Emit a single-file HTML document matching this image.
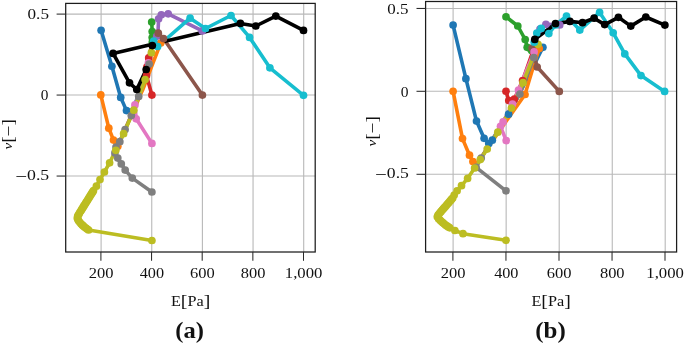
<!DOCTYPE html><html><head><meta charset="utf-8"><title>Figure</title><style>html,body{margin:0;padding:0;background:#fff}svg{display:block}</style></head><body><svg width="685" height="345" viewBox="0 0 685 345" font-family="'Liberation Serif', serif" fill="#111">
<rect width="685" height="345" fill="#fff"/>
<g stroke="#b8b8b8" stroke-width="1.1"><line x1="101.1" y1="3.4" x2="101.1" y2="252.0"/><line x1="151.75" y1="3.4" x2="151.75" y2="252.0"/><line x1="202.4" y1="3.4" x2="202.4" y2="252.0"/><line x1="253.05" y1="3.4" x2="253.05" y2="252.0"/><line x1="303.7" y1="3.4" x2="303.7" y2="252.0"/><line x1="65.7" y1="14.1" x2="315.2" y2="14.1"/><line x1="65.7" y1="95.06" x2="315.2" y2="95.06"/><line x1="65.7" y1="176.05" x2="315.2" y2="176.05"/></g>
<polyline points="101.1,30.3 111.9,66.3 120.7,97.4 126.5,110.6 132.6,109.8 138.0,96.5 144.4,79.6 148.5,64.0 151.0,52.0" fill="none" stroke="#1f77b4" stroke-width="3.6" stroke-linejoin="round" stroke-linecap="round"/>
<polyline points="100.8,94.9 108.8,128.2 113.5,140.1 117.8,146.3 119.9,141.5 125.0,129.6 131.0,116.0 134.3,110.0 139.3,97.0 142.6,90.0 146.5,80.0 151.2,67.5 160.7,43.0" fill="none" stroke="#ff7f0e" stroke-width="3.6" stroke-linejoin="round" stroke-linecap="round"/>
<polyline points="151.7,22.1 152.2,31.5 152.2,37.5 152.3,42.0" fill="none" stroke="#2ca02c" stroke-width="3.6" stroke-linejoin="round" stroke-linecap="round"/>
<polyline points="151.9,95.1 146.5,75.5 147.0,66.8 148.7,57.9 150.5,50.0" fill="none" stroke="#d62728" stroke-width="3.6" stroke-linejoin="round" stroke-linecap="round"/>
<polyline points="202.3,30.9 168.2,13.8 161.3,14.8 158.6,18.8 158.1,30.0 156.8,36.2 155.0,42.0" fill="none" stroke="#9467bd" stroke-width="3.6" stroke-linejoin="round" stroke-linecap="round"/>
<polyline points="202.4,95.1 163.5,38.6 158.3,33.2" fill="none" stroke="#8c564b" stroke-width="3.6" stroke-linejoin="round" stroke-linecap="round"/>
<polyline points="151.9,143.4 136.2,118.8 134.9,104.9 138.5,96.5 144.8,79.6 148.4,62.9 150.0,56.0" fill="none" stroke="#e377c2" stroke-width="3.6" stroke-linejoin="round" stroke-linecap="round"/>
<polyline points="151.9,192.0 132.3,178.1 125.2,170.1 121.3,163.9 117.8,158.1 114.9,152.9 116.0,147.0 119.8,141.7 125.1,129.6 131.3,115.6 138.7,96.4 149.1,64.1 150.5,56.0" fill="none" stroke="#7f7f7f" stroke-width="3.6" stroke-linejoin="round" stroke-linecap="round"/>
<polyline points="151.9,240.5 88.6,230.0 87.2,229.0 85.9,228.0 84.5,227.0 83.3,225.9 82.2,224.9 81.0,223.8 79.8,222.3 78.6,220.8 77.9,219.4 77.3,218.0 77.7,216.0 78.5,214.8 79.2,213.5 80.0,212.1 80.9,210.8 81.7,209.4 82.6,208.1 83.4,206.7 84.2,205.4 85.1,204.0 85.9,202.7 86.8,201.3 87.6,200.0 88.5,198.6 89.3,197.3 90.1,195.9 91.0,194.6 91.8,193.2 92.7,191.9 93.5,190.5 96.4,186.2 100.0,179.6 104.4,172.0 109.6,162.8 115.8,150.3 123.6,133.7 133.8,110.2 145.1,79.6 151.4,52.7" fill="none" stroke="#bcbd22" stroke-width="3.6" stroke-linejoin="round" stroke-linecap="round"/>
<polyline points="303.5,95.3 269.9,67.8 249.6,37.4 231.0,15.5 205.5,28.5 190.1,18.2 157.6,46.5 153.7,41.2" fill="none" stroke="#17becf" stroke-width="3.6" stroke-linejoin="round" stroke-linecap="round"/>
<polyline points="303.5,30.4 275.8,16.1 255.8,26.0 240.4,23.4 113.1,53.4 129.5,82.8 136.8,89.5 146.2,69.5 152.3,45.6" fill="none" stroke="#000000" stroke-width="3.6" stroke-linejoin="round" stroke-linecap="round"/>
<g fill="#1f77b4"><circle cx="101.1" cy="30.3" r="3.85"/><circle cx="111.9" cy="66.3" r="3.85"/><circle cx="120.7" cy="97.4" r="3.85"/><circle cx="126.5" cy="110.6" r="3.85"/></g>
<g fill="#ff7f0e"><circle cx="100.8" cy="94.9" r="3.85"/><circle cx="108.8" cy="128.2" r="3.85"/><circle cx="113.5" cy="140.1" r="3.85"/><circle cx="117.8" cy="146.3" r="3.85"/><circle cx="160.7" cy="43.0" r="3.85"/></g>
<g fill="#2ca02c"><circle cx="151.7" cy="22.1" r="3.85"/><circle cx="152.2" cy="31.5" r="3.85"/><circle cx="152.2" cy="37.5" r="3.85"/><circle cx="152.3" cy="42.0" r="3.85"/></g>
<g fill="#d62728"><circle cx="151.9" cy="95.1" r="3.85"/><circle cx="146.5" cy="75.5" r="3.85"/><circle cx="147.0" cy="66.8" r="3.85"/><circle cx="148.7" cy="57.9" r="3.85"/></g>
<g fill="#9467bd"><circle cx="202.3" cy="30.9" r="3.85"/><circle cx="168.2" cy="13.8" r="3.85"/><circle cx="161.3" cy="14.8" r="3.85"/><circle cx="158.6" cy="18.8" r="3.85"/><circle cx="156.8" cy="36.2" r="3.85"/></g>
<g fill="#8c564b"><circle cx="202.4" cy="95.1" r="3.85"/><circle cx="163.5" cy="38.6" r="3.85"/><circle cx="158.3" cy="33.2" r="3.85"/></g>
<g fill="#e377c2"><circle cx="151.9" cy="143.4" r="3.85"/><circle cx="136.2" cy="118.8" r="3.85"/><circle cx="134.9" cy="104.9" r="3.85"/><circle cx="148.4" cy="62.9" r="3.85"/></g>
<g fill="#7f7f7f"><circle cx="151.9" cy="192.0" r="3.85"/><circle cx="132.3" cy="178.1" r="3.85"/><circle cx="125.2" cy="170.1" r="3.85"/><circle cx="121.3" cy="163.9" r="3.85"/><circle cx="117.8" cy="158.1" r="3.85"/><circle cx="114.9" cy="152.9" r="3.85"/><circle cx="116.0" cy="147.0" r="3.85"/><circle cx="119.8" cy="141.7" r="3.85"/><circle cx="125.1" cy="129.6" r="3.85"/><circle cx="131.3" cy="115.6" r="3.85"/><circle cx="138.7" cy="96.4" r="3.85"/><circle cx="149.1" cy="64.1" r="3.85"/></g>
<g fill="#bcbd22"><circle cx="151.9" cy="240.5" r="3.85"/><circle cx="88.6" cy="230.0" r="3.85"/><circle cx="87.2" cy="229.0" r="3.85"/><circle cx="85.9" cy="228.0" r="3.85"/><circle cx="84.5" cy="227.0" r="3.85"/><circle cx="83.3" cy="225.9" r="3.85"/><circle cx="82.2" cy="224.9" r="3.85"/><circle cx="81.0" cy="223.8" r="3.85"/><circle cx="79.8" cy="222.3" r="3.85"/><circle cx="78.6" cy="220.8" r="3.85"/><circle cx="77.9" cy="219.4" r="3.85"/><circle cx="77.3" cy="218.0" r="3.85"/><circle cx="77.7" cy="216.0" r="3.85"/><circle cx="78.5" cy="214.8" r="3.85"/><circle cx="79.2" cy="213.5" r="3.85"/><circle cx="80.0" cy="212.1" r="3.85"/><circle cx="80.9" cy="210.8" r="3.85"/><circle cx="81.7" cy="209.4" r="3.85"/><circle cx="82.6" cy="208.1" r="3.85"/><circle cx="83.4" cy="206.7" r="3.85"/><circle cx="84.2" cy="205.4" r="3.85"/><circle cx="85.1" cy="204.0" r="3.85"/><circle cx="85.9" cy="202.7" r="3.85"/><circle cx="86.8" cy="201.3" r="3.85"/><circle cx="87.6" cy="200.0" r="3.85"/><circle cx="88.5" cy="198.6" r="3.85"/><circle cx="89.3" cy="197.3" r="3.85"/><circle cx="90.1" cy="195.9" r="3.85"/><circle cx="91.0" cy="194.6" r="3.85"/><circle cx="91.8" cy="193.2" r="3.85"/><circle cx="92.7" cy="191.9" r="3.85"/><circle cx="93.5" cy="190.5" r="3.85"/><circle cx="96.4" cy="186.2" r="3.85"/><circle cx="100.0" cy="179.6" r="3.85"/><circle cx="104.4" cy="172.0" r="3.85"/><circle cx="109.6" cy="162.8" r="3.85"/><circle cx="115.8" cy="150.3" r="3.85"/><circle cx="123.6" cy="133.7" r="3.85"/><circle cx="133.8" cy="110.2" r="3.85"/><circle cx="145.1" cy="79.6" r="3.85"/><circle cx="151.4" cy="52.7" r="3.85"/></g>
<g fill="#17becf"><circle cx="303.5" cy="95.3" r="3.85"/><circle cx="269.9" cy="67.8" r="3.85"/><circle cx="249.6" cy="37.4" r="3.85"/><circle cx="231.0" cy="15.5" r="3.85"/><circle cx="205.5" cy="28.5" r="3.85"/><circle cx="190.1" cy="18.2" r="3.85"/><circle cx="157.6" cy="46.5" r="3.85"/><circle cx="153.7" cy="41.2" r="3.85"/></g>
<g fill="#000000"><circle cx="303.5" cy="30.4" r="3.85"/><circle cx="275.8" cy="16.1" r="3.85"/><circle cx="255.8" cy="26.0" r="3.85"/><circle cx="240.4" cy="23.4" r="3.85"/><circle cx="113.1" cy="53.4" r="3.85"/><circle cx="129.5" cy="82.8" r="3.85"/><circle cx="136.8" cy="89.5" r="3.85"/><circle cx="146.2" cy="69.5" r="3.85"/><circle cx="152.3" cy="45.6" r="3.85"/></g>
<g stroke="#1c1c1c" stroke-width="1.25" fill="none"><rect x="65.7" y="3.4" width="249.50" height="248.60"/></g><g stroke="#2a2a2a" stroke-width="1.05" fill="none"><line x1="100.89999999999999" y1="252.0" x2="100.89999999999999" y2="260.8"/><line x1="151.55" y1="252.0" x2="151.55" y2="260.8"/><line x1="202.20000000000002" y1="252.0" x2="202.20000000000002" y2="260.8"/><line x1="252.85000000000002" y1="252.0" x2="252.85000000000002" y2="260.8"/><line x1="303.5" y1="252.0" x2="303.5" y2="260.8"/><line x1="56.6" y1="14.1" x2="65.7" y2="14.1"/><line x1="56.6" y1="95.06" x2="65.7" y2="95.06"/><line x1="56.6" y1="176.05" x2="65.7" y2="176.05"/></g>
<g stroke="#b8b8b8" stroke-width="1.1"><line x1="453.1" y1="1.5" x2="453.1" y2="252.0"/><line x1="506.15" y1="1.5" x2="506.15" y2="252.0"/><line x1="559.2" y1="1.5" x2="559.2" y2="252.0"/><line x1="612.25" y1="1.5" x2="612.25" y2="252.0"/><line x1="665.2" y1="1.5" x2="665.2" y2="252.0"/><line x1="425.6" y1="8.45" x2="676.6" y2="8.45"/><line x1="425.6" y1="91.3" x2="676.6" y2="91.3"/><line x1="425.6" y1="174.3" x2="676.6" y2="174.3"/></g>
<polyline points="453.1,25.1 465.9,78.7 476.5,121.1 484.1,138.3 488.8,143.5 492.3,140.2 508.6,114.2 526.6,79.8 542.9,47.3" fill="none" stroke="#1f77b4" stroke-width="3.6" stroke-linejoin="round" stroke-linecap="round"/>
<polyline points="453.1,91.3 462.5,138.6 469.5,155.2 472.9,161.6 475.5,165.5 505.6,121.9 525.0,94.5 529.4,79.8 534.0,64.5 539.2,48.6" fill="none" stroke="#ff7f0e" stroke-width="3.6" stroke-linejoin="round" stroke-linecap="round"/>
<polyline points="506.0,16.8 517.8,26.0 525.2,39.5 527.2,47.3 530.0,52.0" fill="none" stroke="#2ca02c" stroke-width="3.6" stroke-linejoin="round" stroke-linecap="round"/>
<polyline points="506.0,91.3 508.8,100.6 514.3,99.2 522.6,80.5 532.6,52.0" fill="none" stroke="#d62728" stroke-width="3.6" stroke-linejoin="round" stroke-linecap="round"/>
<polyline points="559.7,24.9 545.9,24.3 540.0,29.0" fill="none" stroke="#9467bd" stroke-width="3.6" stroke-linejoin="round" stroke-linecap="round"/>
<polyline points="559.3,91.4 537.2,67.0 532.2,48.2" fill="none" stroke="#8c564b" stroke-width="3.6" stroke-linejoin="round" stroke-linecap="round"/>
<polyline points="506.2,140.6 500.5,126.3 503.1,121.9 512.5,104.0 518.5,90.1 534.1,51.9" fill="none" stroke="#e377c2" stroke-width="3.6" stroke-linejoin="round" stroke-linecap="round"/>
<polyline points="506.0,190.8 476.1,167.4 481.2,158.0 519.9,94.1 533.8,57.6" fill="none" stroke="#7f7f7f" stroke-width="3.6" stroke-linejoin="round" stroke-linecap="round"/>
<polyline points="506.0,240.3 463.0,233.7 454.9,230.5 449.8,227.8 448.4,226.9 446.9,225.9 445.5,225.0 444.2,223.8 442.8,222.7 441.5,221.5 440.1,220.2 438.6,218.8 437.3,216.8 438.0,215.0 439.1,213.8 440.1,212.6 441.1,211.4 442.2,210.1 443.2,208.9 444.3,207.7 445.4,206.5 446.4,205.3 447.4,204.1 448.5,202.9 449.6,201.6 450.6,200.4 451.6,199.2 452.7,198.0 454.2,195.1 457.1,190.8 461.5,185.7 467.6,178.4 474.6,168.0 480.3,159.6 487.2,149.1 497.8,132.2 511.4,108.0 523.0,82.7 538.0,44.3" fill="none" stroke="#bcbd22" stroke-width="3.6" stroke-linejoin="round" stroke-linecap="round"/>
<polyline points="664.6,91.4 641.0,75.6 624.8,53.9 613.2,32.8 599.6,12.4 579.8,30.1 566.5,16.1 555.5,25.0 548.8,33.6 541.2,28.4 536.8,33.0 534.2,42.2" fill="none" stroke="#17becf" stroke-width="3.6" stroke-linejoin="round" stroke-linecap="round"/>
<polyline points="664.9,25.1 645.8,17.0 630.8,26.1 618.4,17.3 604.7,24.6 594.1,18.2 582.5,22.7 569.9,21.4 555.5,23.7 534.8,39.4" fill="none" stroke="#000000" stroke-width="3.6" stroke-linejoin="round" stroke-linecap="round"/>
<g fill="#1f77b4"><circle cx="453.1" cy="25.1" r="3.85"/><circle cx="465.9" cy="78.7" r="3.85"/><circle cx="476.5" cy="121.1" r="3.85"/><circle cx="484.1" cy="138.3" r="3.85"/><circle cx="488.8" cy="143.5" r="3.85"/><circle cx="492.3" cy="140.2" r="3.85"/><circle cx="508.6" cy="114.2" r="3.85"/><circle cx="542.9" cy="47.3" r="3.85"/></g>
<g fill="#ff7f0e"><circle cx="453.1" cy="91.3" r="3.85"/><circle cx="462.5" cy="138.6" r="3.85"/><circle cx="469.5" cy="155.2" r="3.85"/><circle cx="472.9" cy="161.6" r="3.85"/><circle cx="525.0" cy="94.5" r="3.85"/><circle cx="539.2" cy="48.6" r="3.85"/></g>
<g fill="#2ca02c"><circle cx="506.0" cy="16.8" r="3.85"/><circle cx="517.8" cy="26.0" r="3.85"/><circle cx="525.2" cy="39.5" r="3.85"/><circle cx="527.2" cy="47.3" r="3.85"/></g>
<g fill="#d62728"><circle cx="506.0" cy="91.3" r="3.85"/><circle cx="508.8" cy="100.6" r="3.85"/><circle cx="514.3" cy="99.2" r="3.85"/><circle cx="522.6" cy="80.5" r="3.85"/></g>
<g fill="#9467bd"><circle cx="559.7" cy="24.9" r="3.85"/><circle cx="545.9" cy="24.3" r="3.85"/><circle cx="540.0" cy="29.0" r="3.85"/></g>
<g fill="#8c564b"><circle cx="559.3" cy="91.4" r="3.85"/><circle cx="537.2" cy="67.0" r="3.85"/><circle cx="532.2" cy="48.2" r="3.85"/></g>
<g fill="#e377c2"><circle cx="506.2" cy="140.6" r="3.85"/><circle cx="500.5" cy="126.3" r="3.85"/><circle cx="503.1" cy="121.9" r="3.85"/><circle cx="512.5" cy="104.0" r="3.85"/><circle cx="518.5" cy="90.1" r="3.85"/><circle cx="534.1" cy="51.9" r="3.85"/></g>
<g fill="#7f7f7f"><circle cx="506.0" cy="190.8" r="3.85"/><circle cx="476.1" cy="167.4" r="3.85"/><circle cx="481.2" cy="158.0" r="3.85"/><circle cx="519.9" cy="94.1" r="3.85"/><circle cx="533.8" cy="57.6" r="3.85"/></g>
<g fill="#bcbd22"><circle cx="506.0" cy="240.3" r="3.85"/><circle cx="463.0" cy="233.7" r="3.85"/><circle cx="454.9" cy="230.5" r="3.85"/><circle cx="449.8" cy="227.8" r="3.85"/><circle cx="448.4" cy="226.9" r="3.85"/><circle cx="446.9" cy="225.9" r="3.85"/><circle cx="445.5" cy="225.0" r="3.85"/><circle cx="444.2" cy="223.8" r="3.85"/><circle cx="442.8" cy="222.7" r="3.85"/><circle cx="441.5" cy="221.5" r="3.85"/><circle cx="440.1" cy="220.2" r="3.85"/><circle cx="438.6" cy="218.8" r="3.85"/><circle cx="437.3" cy="216.8" r="3.85"/><circle cx="438.0" cy="215.0" r="3.85"/><circle cx="439.1" cy="213.8" r="3.85"/><circle cx="440.1" cy="212.6" r="3.85"/><circle cx="441.1" cy="211.4" r="3.85"/><circle cx="442.2" cy="210.1" r="3.85"/><circle cx="443.2" cy="208.9" r="3.85"/><circle cx="444.3" cy="207.7" r="3.85"/><circle cx="445.4" cy="206.5" r="3.85"/><circle cx="446.4" cy="205.3" r="3.85"/><circle cx="447.4" cy="204.1" r="3.85"/><circle cx="448.5" cy="202.9" r="3.85"/><circle cx="449.6" cy="201.6" r="3.85"/><circle cx="450.6" cy="200.4" r="3.85"/><circle cx="451.6" cy="199.2" r="3.85"/><circle cx="452.7" cy="198.0" r="3.85"/><circle cx="454.2" cy="195.1" r="3.85"/><circle cx="457.1" cy="190.8" r="3.85"/><circle cx="461.5" cy="185.7" r="3.85"/><circle cx="467.6" cy="178.4" r="3.85"/><circle cx="474.6" cy="168.0" r="3.85"/><circle cx="480.3" cy="159.6" r="3.85"/><circle cx="487.2" cy="149.1" r="3.85"/><circle cx="497.8" cy="132.2" r="3.85"/><circle cx="511.4" cy="108.0" r="3.85"/><circle cx="523.0" cy="82.7" r="3.85"/><circle cx="538.0" cy="44.3" r="3.85"/></g>
<g fill="#17becf"><circle cx="664.6" cy="91.4" r="3.85"/><circle cx="641.0" cy="75.6" r="3.85"/><circle cx="624.8" cy="53.9" r="3.85"/><circle cx="613.2" cy="32.8" r="3.85"/><circle cx="599.6" cy="12.4" r="3.85"/><circle cx="579.8" cy="30.1" r="3.85"/><circle cx="566.5" cy="16.1" r="3.85"/><circle cx="555.5" cy="25.0" r="3.85"/><circle cx="548.8" cy="33.6" r="3.85"/><circle cx="541.2" cy="28.4" r="3.85"/><circle cx="536.8" cy="33.0" r="3.85"/><circle cx="534.2" cy="42.2" r="3.85"/></g>
<g fill="#000000"><circle cx="664.9" cy="25.1" r="3.85"/><circle cx="645.8" cy="17.0" r="3.85"/><circle cx="630.8" cy="26.1" r="3.85"/><circle cx="618.4" cy="17.3" r="3.85"/><circle cx="604.7" cy="24.6" r="3.85"/><circle cx="594.1" cy="18.2" r="3.85"/><circle cx="582.5" cy="22.7" r="3.85"/><circle cx="569.9" cy="21.4" r="3.85"/><circle cx="555.5" cy="23.7" r="3.85"/><circle cx="534.8" cy="39.4" r="3.85"/></g>
<g stroke="#1c1c1c" stroke-width="1.25" fill="none"><rect x="425.6" y="1.5" width="251.00" height="250.50"/></g><g stroke="#2a2a2a" stroke-width="1.05" fill="none"><line x1="452.90000000000003" y1="252.0" x2="452.90000000000003" y2="260.8"/><line x1="505.95" y1="252.0" x2="505.95" y2="260.8"/><line x1="559.0" y1="252.0" x2="559.0" y2="260.8"/><line x1="612.05" y1="252.0" x2="612.05" y2="260.8"/><line x1="665.0" y1="252.0" x2="665.0" y2="260.8"/><line x1="416.5" y1="8.45" x2="425.6" y2="8.45"/><line x1="416.5" y1="91.3" x2="425.6" y2="91.3"/><line x1="416.5" y1="174.3" x2="425.6" y2="174.3"/></g>
<text transform="translate(88.67,277.70) scale(1.138,1.000)" font-size="14.5">200</text>
<text transform="translate(139.73,277.70) scale(1.119,1.000)" font-size="14.5">400</text>
<text transform="translate(189.99,277.70) scale(1.137,1.000)" font-size="14.5">600</text>
<text transform="translate(240.72,277.70) scale(1.133,1.000)" font-size="14.5">800</text>
<text transform="translate(284.78,277.70) scale(1.153,1.000)" font-size="14.5">1,000</text>
<text transform="translate(440.67,277.70) scale(1.138,1.000)" font-size="14.5">200</text>
<text transform="translate(494.13,277.70) scale(1.119,1.000)" font-size="14.5">400</text>
<text transform="translate(546.79,277.70) scale(1.137,1.000)" font-size="14.5">600</text>
<text transform="translate(599.92,277.70) scale(1.133,1.000)" font-size="14.5">800</text>
<text transform="translate(646.28,277.70) scale(1.153,1.000)" font-size="14.5">1,000</text>
<text transform="translate(27.55,19.20) scale(1.182,1.000)" font-size="14.5">0.5</text>
<text transform="translate(40.82,100.10) scale(1.058,1.000)" font-size="14.5">0</text>
<text transform="translate(15.16,179.80) scale(1.226,1)" font-size="14.5"><tspan font-size="17.1" dy="1.70">−</tspan><tspan dy="-1.70">0.5</tspan></text>
<text transform="translate(387.35,13.60) scale(1.170,1.000)" font-size="14.5">0.5</text>
<text transform="translate(400.71,96.70) scale(1.074,1.000)" font-size="14.5">0</text>
<text transform="translate(375.06,178.20) scale(1.218,1)" font-size="14.5"><tspan font-size="17.1" dy="1.70">−</tspan><tspan dy="-1.70">0.5</tspan></text>
<text transform="translate(170.93,305.80) scale(1.122,1)" font-size="14.5">E<tspan font-size="17.7" dy="1.30">[</tspan><tspan dy="-1.30">Pa</tspan><tspan font-size="17.7" dy="1.30">]</tspan></text>
<text transform="translate(531.38,305.80) scale(1.122,1)" font-size="14.5">E<tspan font-size="17.7" dy="1.30">[</tspan><tspan dy="-1.30">Pa</tspan><tspan font-size="17.7" dy="1.30">]</tspan></text>
<text transform="translate(175.22,338.29) scale(1.024,0.942)" font-size="24" font-weight="bold">(a)</text>
<text transform="translate(535.20,338.29) scale(1.040,0.942)" font-size="24" font-weight="bold">(b)</text>
<text transform="rotate(-90) translate(-149.61,11.70) scale(1.131,1)" font-size="17"><tspan font-size="13.5" font-style="italic">ν</tspan><tspan dy="2.00">[−]</tspan></text>
<text transform="rotate(-90) translate(-146.61,375.50) scale(1.131,1)" font-size="17"><tspan font-size="13.5" font-style="italic">ν</tspan><tspan dy="2.00">[−]</tspan></text>
</svg></body></html>
